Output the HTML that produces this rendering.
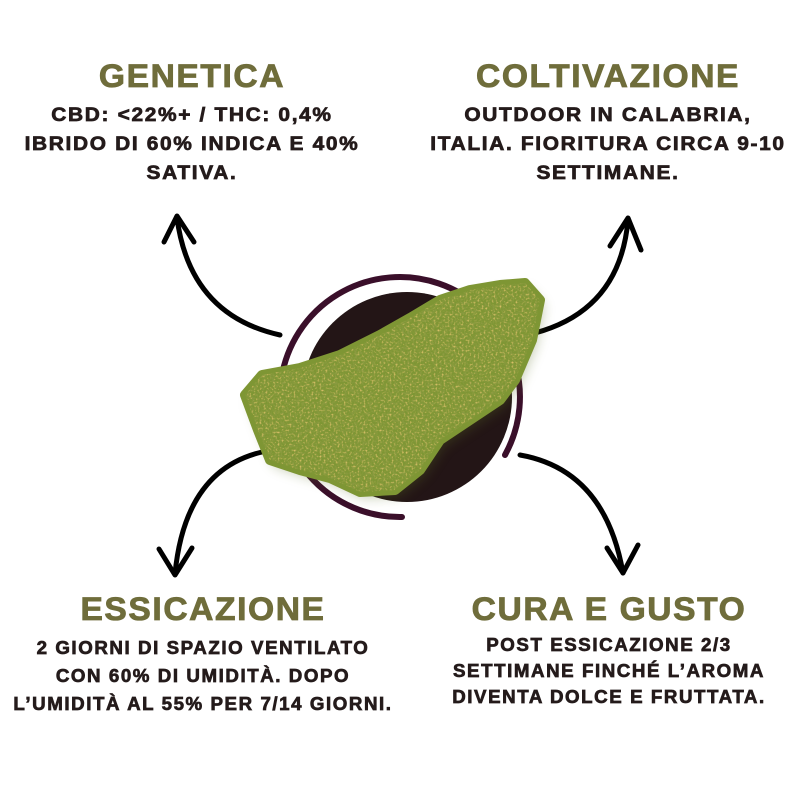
<!DOCTYPE html>
<html><head><meta charset="utf-8"><style>
body{margin:0;width:800px;height:800px;background:#fff;position:relative;overflow:hidden;font-family:"Liberation Sans",sans-serif}
.h{position:absolute;font-weight:900;color:#6f6d3b;font-size:32px;letter-spacing:1.5px;text-align:center;width:400px;transform:scaleX(1.05);-webkit-text-stroke:0.8px #6f6d3b}
.t{position:absolute;font-weight:900;color:#241b1b;font-size:19px;letter-spacing:1.5px;text-align:center;width:420px;line-height:29px;transform:scaleX(1.1);-webkit-text-stroke:0.7px #241b1b}
.b{font-size:18px;transform:scaleX(1.04)}
svg{position:absolute;left:0;top:0}
</style></head><body>
<svg width="800" height="800" viewBox="0 0 800 800">
<defs>
<filter id="tx"><feTurbulence type="fractalNoise" baseFrequency="0.4" numOctaves="3" seed="3"/><feColorMatrix values="0 0 0 0 0.25  0 0 0 0 0.32  0 0 0 0 0.05  0 0 0 3 -1.2"/><feComposite in2="SourceGraphic" operator="in"/></filter>
<filter id="tx2"><feTurbulence type="fractalNoise" baseFrequency="0.5" numOctaves="2" seed="9"/><feColorMatrix values="0 0 0 0 0.75  0 0 0 0 0.55  0 0 0 0 0.15  0 0 0 3 -1.6"/><feComposite in2="SourceGraphic" operator="in"/></filter>
<filter id="sh"><feGaussianBlur stdDeviation="6"/></filter>
</defs>
<circle cx="407" cy="397" r="105" fill="#231516"/>
<path d="M402 517 A120 120 0 1 1 505 455" fill="none" stroke="#3a0f2a" stroke-width="6" stroke-linecap="round"/>
<g fill="none" stroke="#000" stroke-width="5" stroke-linecap="round" stroke-linejoin="round">
<path d="M280 335 Q190 315 177 218"/><path d="M164 242 L177 216 L194 242"/>
<path d="M535 333 Q620 310 628 220"/><path d="M610 246 L628 218 L641 250"/>
<path d="M262 452 Q185 470 175 574"/><path d="M159 549 L175 575 L192 548"/>
<path d="M520 455 Q605 470 623 573"/><path d="M607 548 L623 573 L638 545"/>
</g>
<path d="M245 395 L262 375 L300 368 L340 355 L380 335 L410 318 L440 300 L470 290 L500 285 L525 283 L540 300 L532 340 L515 380 L500 400 L470 420 L440 440 L420 470 L395 490 L360 492 L330 478 L300 470 L270 460 L258 430 Z" fill="#5a6a20" opacity="0.35" filter="url(#sh)" transform="translate(4,6)"/>
<path d="M245 395 L262 375 L300 368 L340 355 L380 335 L410 318 L440 300 L470 290 L500 285 L525 283 L540 300 L532 340 L515 380 L500 400 L470 420 L440 440 L420 470 L395 490 L360 492 L330 478 L300 470 L270 460 L258 430 Z" fill="#7e9634" stroke="#7e9634" stroke-width="10" stroke-linejoin="round"/>
<path d="M245 395 L262 375 L300 368 L340 355 L380 335 L410 318 L440 300 L470 290 L500 285 L525 283 L540 300 L532 340 L515 380 L500 400 L470 420 L440 440 L420 470 L395 490 L360 492 L330 478 L300 470 L270 460 L258 430 Z" fill="#7e9634" filter="url(#tx)"/>
<path d="M245 395 L262 375 L300 368 L340 355 L380 335 L410 318 L440 300 L470 290 L500 285 L525 283 L540 300 L532 340 L515 380 L500 400 L470 420 L440 440 L420 470 L395 490 L360 492 L330 478 L300 470 L270 460 L258 430 Z" fill="#7e9634" filter="url(#tx2)"/>
</svg>
<div class="h" style="left:-8px;top:58px">GENETICA</div>
<div class="t" style="left:-18px;top:101px">CBD: &lt;22%+ / THC: 0,4%<br>IBRIDO DI 60% INDICA E 40%<br>SATIVA.</div>
<div class="h" style="left:408px;top:58px">COLTIVAZIONE</div>
<div class="t" style="left:398px;top:101px">OUTDOOR IN CALABRIA,<br>ITALIA. FIORITURA CIRCA 9-10<br>SETTIMANE.</div>
<div class="h" style="left:3px;top:591px">ESSICAZIONE</div>
<div class="t b" style="left:-7px;top:634px;line-height:28px">2 GIORNI DI SPAZIO VENTILATO<br>CON 60% DI UMIDITÀ. DOPO<br>L’UMIDITÀ AL 55% PER 7/14 GIORNI.</div>
<div class="h" style="left:409px;top:591px">CURA E GUSTO</div>
<div class="t b" style="left:399px;top:632px;line-height:26px">POST ESSICAZIONE 2/3<br>SETTIMANE FINCHÉ L’AROMA<br>DIVENTA DOLCE E FRUTTATA.</div>
</body></html>
